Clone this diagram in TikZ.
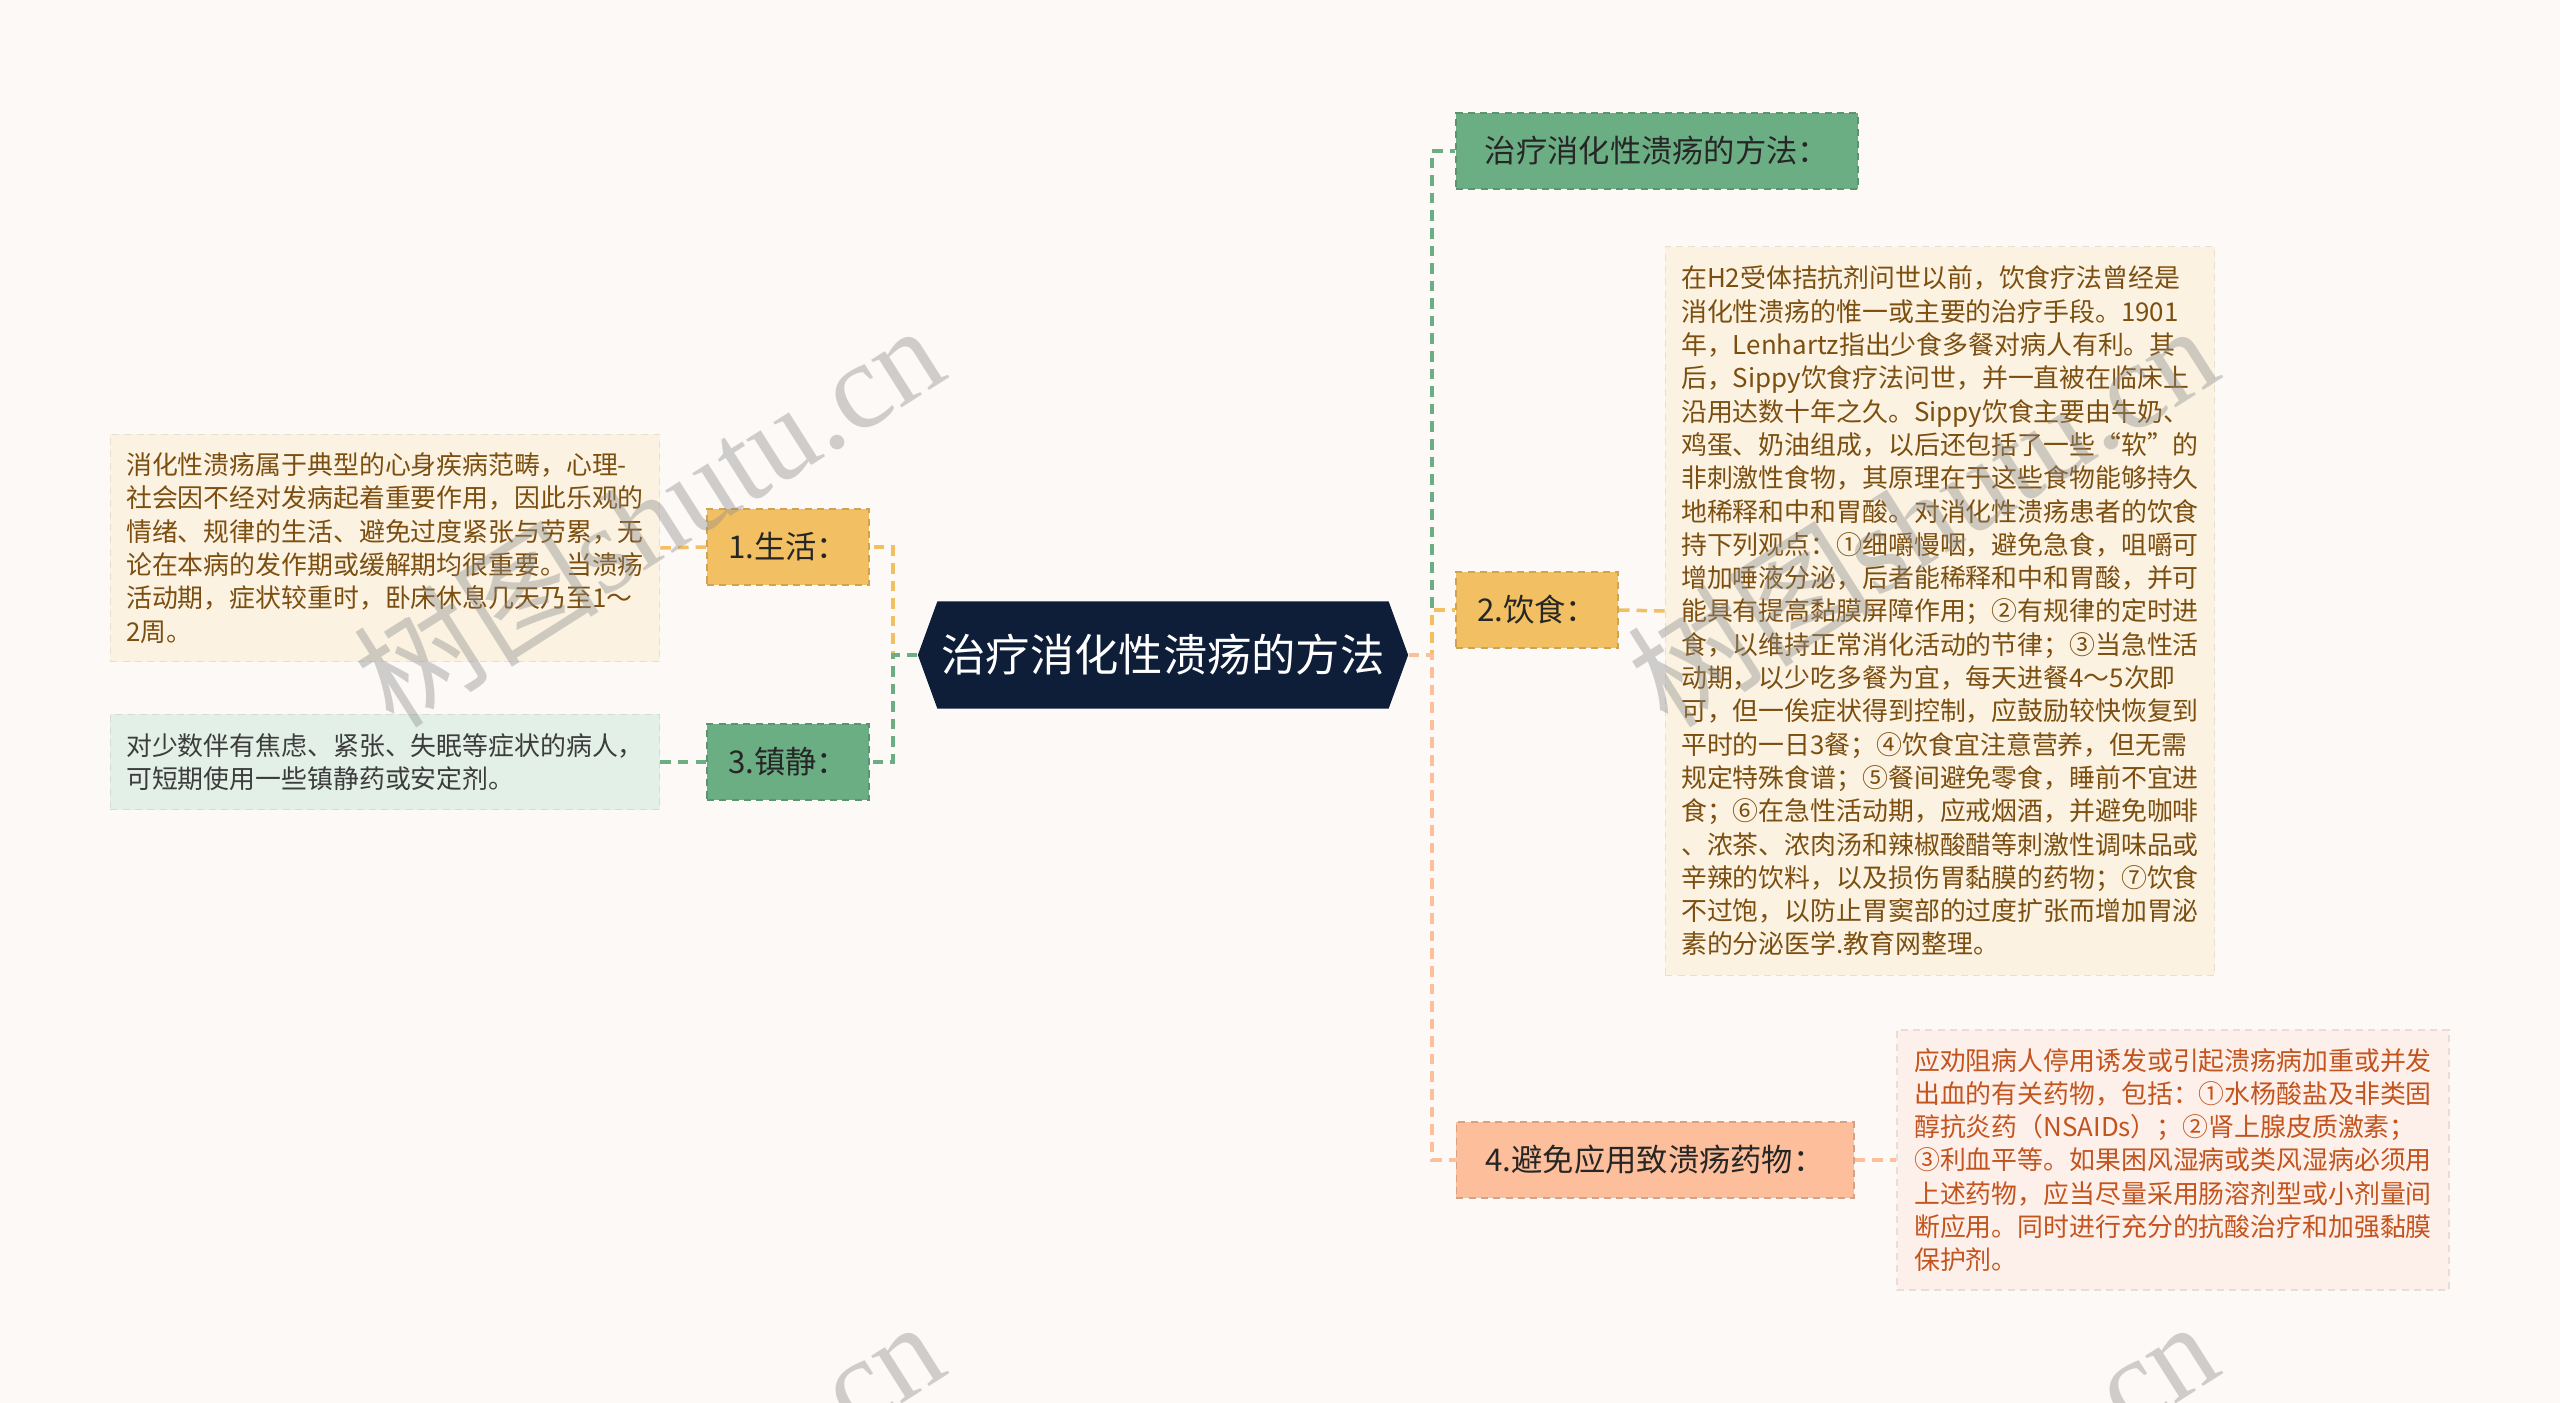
\documentclass[tikz,border=0pt]{standalone}
\usepackage{fontspec}
\setmainfont{Noto Sans CJK SC}
\newfontfamily\wmserif{Liberation Serif}
\usetikzlibrary{shapes.symbols}

\definecolor{bgc}{HTML}{FDF9F7}
\definecolor{rootc}{HTML}{0E1E38}
\definecolor{grnc}{HTML}{6CAE84}
\definecolor{orgc}{HTML}{F2C063}
\definecolor{salc}{HTML}{FCBE9B}
\definecolor{creamc}{HTML}{FBF2E2}
\definecolor{mintc}{HTML}{E3F0E7}
\definecolor{pinkc}{HTML}{FDF0EA}
\definecolor{brownt}{HTML}{7C4F10}
\definecolor{rustt}{HTML}{C4541E}
\definecolor{grayt}{HTML}{3C3C3C}

\begin{document}
\begin{tikzpicture}
  [x=0.01cm,y=-0.01cm,
   every node/.style={font=\fontsize{8.9pt}{11pt}\selectfont,text=black!85,inner sep=0pt},
   topic/.style={draw=#1!85!black,fill=#1,dash pattern=on 2pt off 1.5pt,line width=0.5pt,
     minimum height=0.76cm},
   note/.style={fill=#1,draw=#1!92!black,dash pattern=on 2pt off 1.5pt,line width=0.4pt,
     align=left,minimum width=5.49cm,font=\fontsize{7.36pt}{9.47pt}\selectfont},
   link/.style={draw=#1,line width=1pt,dash pattern=on 3pt off 2pt},
   wm/.style={text=black!45,opacity=0.4,font=\fontsize{35pt}{35pt}\selectfont}]
  \useasboundingbox (0,0) rectangle (2560,1403);
  \fill[bgc] (0,0) rectangle (2560,1403);
  \clip (0,0) rectangle (2560,1403);

  \node[signal,signal to=west and east,signal pointer angle=140,fill=rootc,text=white,
    minimum width=4.9cm,minimum height=1.07cm,font=\fontsize{12.6pt}{14pt}\selectfont]
    (root) at (1163,655) {治疗消化性溃疡的方法};

  \coordinate (tl) at (893,655);
  \coordinate (tr) at (1432,655);

  \node[topic=orgc,minimum width=1.62cm] (shenghuo) at (788,547) {1.生活：};
  \node[topic=grnc,minimum width=1.62cm] (zhenjing) at (788,762) {3.镇静：};
  \node[topic=grnc,minimum width=4.02cm] (fangfa) at (1657,151) {治疗消化性溃疡的方法：};
  \node[topic=orgc,minimum width=1.62cm] (yinshi) at (1537,610) {2.饮食：};
  \node[topic=salc,minimum width=3.97cm] (yaowu) at (1655,1160) {4.避免应用致溃疡药物：};

  \node[note=creamc,text=brownt,minimum height=2.27cm] (t1) at (385,548)
    {消化性溃疡属于典型的心身疾病范畴，心理-\\
     社会因不经对发病起着重要作用，因此乐观的\\
     情绪、规律的生活、避免过度紧张与劳累，无\\
     论在本病的发作期或缓解期均很重要。当溃疡\\
     活动期，症状较重时，卧床休息几天乃至1～\\
     2周。};
  \node[note=mintc,text=grayt,minimum height=0.95cm] (t3) at (385,762)
    {对少数伴有焦虑、紧张、失眠等症状的病人，\\
     可短期使用一些镇静药或安定剂。};
  \node[note=creamc,text=brownt,minimum height=7.28cm] (t2) at (1940,611)
    {在H2受体拮抗剂问世以前，饮食疗法曾经是\\
     消化性溃疡的惟一或主要的治疗手段。1901\\
     年，Lenhartz指出少食多餐对病人有利。其\\
     后，Sippy饮食疗法问世，并一直被在临床上\\
     沿用达数十年之久。Sippy饮食主要由牛奶、\\
     鸡蛋、奶油组成，以后还包括了一些“软”的\\
     非刺激性食物，其原理在于这些食物能够持久\\
     地稀释和中和胃酸。对消化性溃疡患者的饮食\\
     持下列观点：①细嚼慢咽，避免急食，咀嚼可\\
     增加唾液分泌，后者能稀释和中和胃酸，并可\\
     能具有提高黏膜屏障作用；②有规律的定时进\\
     食，以维持正常消化活动的节律；③当急性活\\
     动期，以少吃多餐为宜，每天进餐4～5次即\\
     可，但一俟症状得到控制，应鼓励较快恢复到\\
     平时的一日3餐；④饮食宜注意营养，但无需\\
     规定特殊食谱；⑤餐间避免零食，睡前不宜进\\
     食；⑥在急性活动期，应戒烟酒，并避免咖啡\\
     、浓茶、浓肉汤和辣椒酸醋等刺激性调味品或\\
     辛辣的饮料，以及损伤胃黏膜的药物；⑦饮食\\
     不过饱，以防止胃窦部的过度扩张而增加胃泌\\
     素的分泌医学.教育网整理。};
  \node[note=pinkc,text=rustt,minimum width=5.52cm,minimum height=2.6cm] (t4) at (2173,1160)
    {应劝阻病人停用诱发或引起溃疡病加重或并发\\
     出血的有关药物，包括：①水杨酸盐及非类固\\
     醇抗炎药（NSAIDs）；②肾上腺皮质激素；\\
     ③利血平等。如果困风湿病或类风湿病必须用\\
     上述药物，应当尽量采用肠溶剂型或小剂量间\\
     断应用。同时进行充分的抗酸治疗和加强黏膜\\
     保护剂。};

  \draw[link=orgc] (root.west) -- (tl) |- (shenghuo.east);
  \draw[link=grnc] (root.west) -- (tl) |- (zhenjing.east);
  \draw[link=grnc] (root.east) -- (tr) |- (fangfa.west);
  \draw[link=orgc] (root.east) -- (tr) |- (yinshi.west);
  \draw[link=salc] (root.east) -- (tr) |- (yaowu.west);

  \draw[link=orgc] (shenghuo.west) -- (t1.east);
  \draw[link=grnc] (zhenjing.west) -- (t3.east);
  \draw[link=orgc] (yinshi.east) -- (t2.west);
  \draw[link=salc] (yaowu.east) -- (t4.west);

  \node[wm,rotate=32.4] (wm1) at (648,514) {树图{\wmserif shutu.cn}};
  \node[wm,rotate=32.4] (wm2) at (1922,514) {树图{\wmserif shutu.cn}};
  \node[wm,rotate=32.4] (wm3) at (648,1510) {树图{\wmserif shutu.cn}};
  \node[wm,rotate=32.4] (wm4) at (1922,1510) {树图{\wmserif shutu.cn}};
\end{tikzpicture}
\end{document}
